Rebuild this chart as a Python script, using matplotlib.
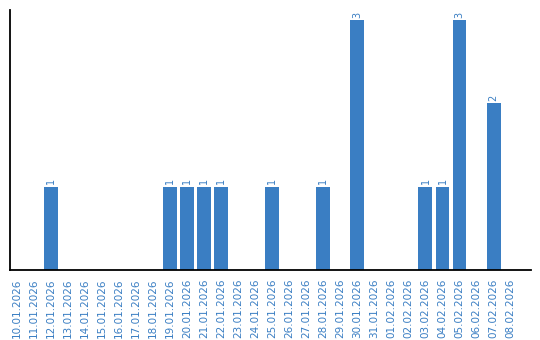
import matplotlib.pyplot as plt

dates = ["10.01.2026", "11.01.2026", "12.01.2026", "13.01.2026", "14.01.2026",
         "15.01.2026", "16.01.2026", "17.01.2026", "18.01.2026", "19.01.2026",
         "20.01.2026", "21.01.2026", "22.01.2026", "23.01.2026", "24.01.2026",
         "25.01.2026", "26.01.2026", "27.01.2026", "28.01.2026", "29.01.2026",
         "30.01.2026", "31.01.2026", "01.02.2026", "02.02.2026", "03.02.2026",
         "04.02.2026", "05.02.2026", "06.02.2026", "07.02.2026", "08.02.2026"]
counts = [0, 0, 1, 0, 0, 0, 0, 0, 0, 1,
          1, 1, 1, 0, 0, 1, 0, 0, 1, 0,
          3, 0, 0, 0, 1, 1, 3, 0, 2, 0]

blue = "#3a7ec3"

fig = plt.figure(figsize=(5.4, 3.4), dpi=100)
ax = fig.add_axes([10 / 540, 70 / 340, 521 / 540, 260 / 340])

x = range(len(dates))
ax.bar(x, counts, width=0.82, color=blue)

for i, v in enumerate(counts):
    if v > 0:
        ax.text(i, v + 0.03, str(v), rotation=90, ha="center", va="bottom",
                fontsize=7, color=blue)

ax.set_xlim(-0.41, 30.2)
ax.set_ylim(0, 3.12)
ax.set_xticks(list(x))
ax.set_xticklabels(dates, rotation=90, fontsize=7.5, color=blue)
ax.tick_params(axis="x", length=0, pad=6)
ax.set_yticks([])
ax.spines["top"].set_visible(False)
ax.spines["right"].set_visible(False)
ax.spines["left"].set_linewidth(1.3)
ax.spines["bottom"].set_linewidth(1.3)

fig.savefig("out.png", dpi=100)
